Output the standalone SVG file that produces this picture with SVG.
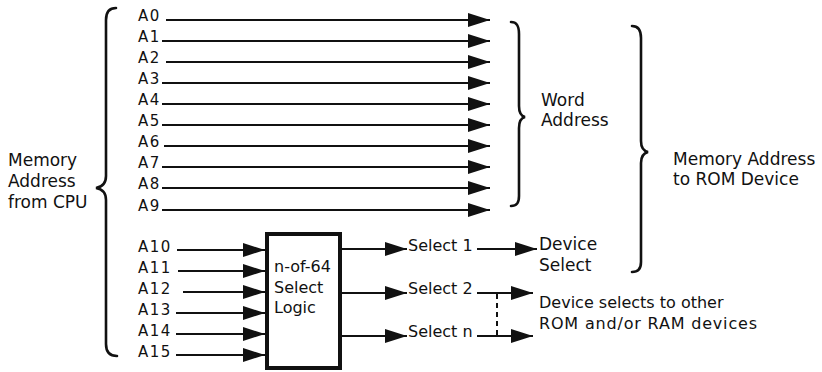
<svg xmlns="http://www.w3.org/2000/svg" width="822" height="372" viewBox="0 0 822 372">
<style>
text{font-family:"DejaVu Sans","Liberation Sans",sans-serif;fill:#111;font-size:16px}
.a{font-size:15px;letter-spacing:1.5px}
.big{font-size:17px}
.ln{stroke:#111;stroke-width:2;fill:none}
.br{stroke:#111;stroke-width:2.6;fill:none;stroke-linecap:round}
.box{stroke:#111;stroke-width:4;fill:#fff}
.dash{stroke:#111;stroke-width:2;stroke-dasharray:5 4;fill:none}
</style>
<defs>
<marker id="ah" markerUnits="userSpaceOnUse" markerWidth="23" markerHeight="15" refX="22" refY="7.5" orient="auto">
<path d="M0,0.5 L22,7.5 L0,14.5 Z" fill="#111"/>
</marker>
</defs>
<rect width="822" height="372" fill="#fff"/>

<g id="cpu-label">
<text class="big" x="8" y="166">Memory</text>
<text class="big" x="8" y="187">Address</text>
<text class="big" x="8" y="208">from CPU</text>
<path class="br" d="M116,8 C109,8 106,12 106,20 L106,176 C106,184 102,187 96,188 C102,189 106,192 106,200 L106,344 C106,352 110,356 117,356"/>
</g>

<g id="addr-labels">
<text class="a" x="138" y="21">A0</text>
<text class="a" x="138" y="42">A1</text>
<text class="a" x="138" y="63">A2</text>
<text class="a" x="138" y="84">A3</text>
<text class="a" x="138" y="105">A4</text>
<text class="a" x="138" y="126">A5</text>
<text class="a" x="138" y="147">A6</text>
<text class="a" x="138" y="168">A7</text>
<text class="a" x="138" y="189">A8</text>
<text class="a" x="138" y="211">A9</text>
<text class="a" x="138" y="252">A10</text>
<text class="a" x="138" y="273">A11</text>
<text class="a" x="138" y="294">A12</text>
<text class="a" x="138" y="315">A13</text>
<text class="a" x="138" y="336">A14</text>
<text class="a" x="138" y="357">A15</text>
</g>

<g id="word-address">
<path class="br" d="M511,22 C517,22 519,26 519,34 L519,106 C519,113 521,116 525,117 C521,118 519,121 519,128 L519,196 C519,203 517,206 511,206"/>
<text class="big" x="541" y="106">Word</text>
<text class="big" x="541" y="126">Address</text>
</g>

<g id="rom-address">
<path class="br" d="M632,26 C638,26 641,30 641,38 L641,141 C641,148 644,151 648,152 C644,153 641,156 641,163 L641,262 C641,269 638,272 632,272"/>
<text class="big" x="673" y="165">Memory Address</text>
<text class="big" x="673" y="185">to ROM Device</text>
</g>

<g id="select-logic">
<rect class="box" x="267" y="234" width="73" height="134"/>
<text x="274" y="272">n-of-64</text>
<text x="274" y="293">Select</text>
<text x="274" y="313">Logic</text>
</g>

<g id="select-labels">
<text x="408" y="251">Select 1</text>
<text x="408" y="294">Select 2</text>
<text x="408" y="337">Select n</text>
</g>

<g id="device-select">
<text class="big" x="539" y="250">Device</text>
<text class="big" x="539" y="271">Select</text>
</g>

<g id="other-devices">
<text x="539" y="308">Device selects to other</text>
<text x="539" y="329" textLength="218">ROM and/or RAM devices</text>
</g>

<g id="connectors">
<line class="ln" x1="166" y1="20" x2="490" y2="20" marker-end="url(#ah)"/>
<line class="ln" x1="162" y1="41" x2="490" y2="41" marker-end="url(#ah)"/>
<line class="ln" x1="166" y1="62" x2="490" y2="62" marker-end="url(#ah)"/>
<line class="ln" x1="162" y1="83" x2="490" y2="83" marker-end="url(#ah)"/>
<line class="ln" x1="162" y1="104" x2="490" y2="104" marker-end="url(#ah)"/>
<line class="ln" x1="162" y1="125" x2="490" y2="125" marker-end="url(#ah)"/>
<line class="ln" x1="164" y1="146" x2="490" y2="146" marker-end="url(#ah)"/>
<line class="ln" x1="162" y1="167" x2="490" y2="167" marker-end="url(#ah)"/>
<line class="ln" x1="162" y1="188" x2="490" y2="188" marker-end="url(#ah)"/>
<line class="ln" x1="162" y1="210" x2="490" y2="210" marker-end="url(#ah)"/>
<line class="ln" x1="177" y1="250" x2="265" y2="250" marker-end="url(#ah)"/>
<line class="ln" x1="178" y1="271" x2="265" y2="271" marker-end="url(#ah)"/>
<line class="ln" x1="183" y1="292" x2="265" y2="292" marker-end="url(#ah)"/>
<line class="ln" x1="176" y1="313" x2="265" y2="313" marker-end="url(#ah)"/>
<line class="ln" x1="176" y1="334" x2="265" y2="334" marker-end="url(#ah)"/>
<line class="ln" x1="176" y1="355" x2="265" y2="355" marker-end="url(#ah)"/>
<line class="ln" x1="342" y1="249" x2="407" y2="249" marker-end="url(#ah)"/>
<line class="ln" x1="342" y1="293" x2="407" y2="293" marker-end="url(#ah)"/>
<line class="ln" x1="342" y1="336" x2="407" y2="336" marker-end="url(#ah)"/>
<line class="ln" x1="477" y1="249" x2="537" y2="249" marker-end="url(#ah)"/>
<line class="ln" x1="477" y1="293" x2="533" y2="293" marker-end="url(#ah)"/>
<line class="ln" x1="477" y1="336" x2="533" y2="336" marker-end="url(#ah)"/>
<line class="dash" x1="497" y1="294" x2="497" y2="336"/>
</g>
</svg>
